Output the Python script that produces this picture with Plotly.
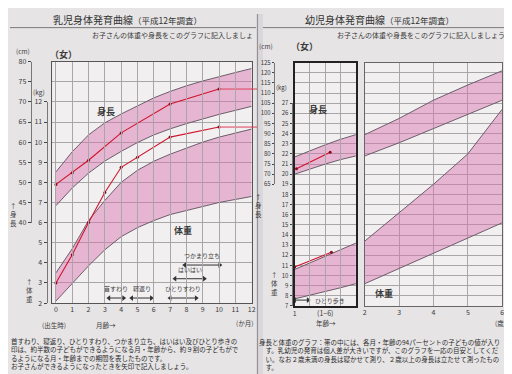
import plotly.graph_objects as go

W, H = 512, 374
def px(x): return x / W
def py(y): return 1 - y / H

# ---------------- data ----------------
# infant chart (0-12 months); length in cm, weight in kg
months = [0, 1, 2, 3, 4, 5, 6, 7, 8, 9, 10, 11, 12]
inf_len_hi = [52.6, 57.6, 61.8, 64.8, 67.0, 68.9, 71.0, 72.6, 74.0, 75.2, 76.3, 77.3, 78.3]
inf_len_lo = [44.2, 48.6, 52.3, 55.3, 57.7, 59.9, 61.8, 63.3, 64.6, 65.8, 66.9, 67.9, 68.9]
inf_wt_hi = [3.5, 4.7, 6.1, 7.1, 8.0, 8.6, 9.05, 9.4, 9.7, 10.0, 10.25, 10.45, 10.65]
inf_wt_lo = [2.1, 3.0, 3.85, 4.65, 5.3, 5.75, 6.1, 6.4, 6.6, 6.8, 7.0, 7.15, 7.3]

child_len_months = [0, 1, 2, 4, 7, 10]
child_len_cm = [49.5, 52.4, 55.5, 62.3, 69.5, 73.2]
child_wt_months = [0, 1, 2, 3, 4, 5, 7, 10]
child_wt_kg = [3.0, 4.4, 6.0, 7.5, 8.75, 9.25, 10.25, 10.75]

inf_ms_names = ["首すわり", "寝返り", "ひとりすわり", "はいはい", "つかまり立ち"]
inf_ms_start = [3.25, 4.65, 7.0, 7.3, 7.9]
inf_ms_end = [4.15, 5.85, 8.6, 9.1, 10.05]

# toddler chart, 1-2 years
tod_age_a = [1.0, 1.25, 1.5, 1.75, 2.0]
tod_len_hi_a = [78.5, 81.6, 84.5, 87.2, 89.5]
tod_len_lo_a = [70.0, 72.6, 75.0, 77.2, 79.0]
tod_wt_hi_a = [10.6, 11.25, 11.9, 12.55, 13.2]
tod_wt_lo_a = [7.7, 8.05, 8.4, 8.8, 9.2]
# toddler chart, 2-6 years
tod_age_b = [2, 3, 4, 5, 6]
tod_len_hi_b = [89.5, 97.5, 106.5, 114.0, 121.0]
tod_len_lo_b = [79.0, 85.5, 92.5, 99.5, 106.5]
tod_wt_hi_b = [13.4, 16.2, 19.0, 22.0, 26.4]
tod_wt_lo_b = [9.2, 10.7, 12.2, 13.7, 15.2]

child2_len_age = [1.03, 1.58]
child2_len_cm = [72.7, 80.8]
child2_wt_age = [1.0, 1.6]
child2_wt_kg = [10.85, 12.3]

tod_ms_names = ["ひとり歩き"]
tod_ms_start = [1.0]
tod_ms_end = [1.22]

left_kg_ticks = list(range(2, 13))
left_cm_ticks = list(range(40, 81, 5))
right_kg_ticks = list(range(7, 28))
right_cm_ticks = list(range(65, 126, 5))

# both charts draw length on the weight scale
def inf_cm(v): return [(c - 10) / 5 for c in v]
def tod_cm(v): return [(c + 30) / 5 for c in v]

# ---------------- style ----------------
FONT = "Noto Sans CJK JP"
PINK = "rgba(214,110,172,0.45)"
EDGE = "#6d5d6b"
RED = "#d0142c"
GRID = "#a9a6a8"
TXT = "#3a3a3a"
PLOTBG = "#f1eff0"

fig = go.Figure()

def band(x, lo, hi, xa, ya):
    fig.add_trace(go.Scatter(x=x, y=lo, mode="lines", line=dict(color=EDGE, width=1),
                             xaxis=xa, yaxis=ya, showlegend=False, hoverinfo="skip"))
    fig.add_trace(go.Scatter(x=x, y=hi, mode="lines", line=dict(color=EDGE, width=1),
                             fill="tonexty", fillcolor=PINK,
                             xaxis=xa, yaxis=ya, showlegend=False, hoverinfo="skip"))

def red(x, y, xa, ya):
    fig.add_trace(go.Scatter(x=x, y=y, mode="lines+markers",
                             line=dict(color=RED, width=1.1),
                             marker=dict(color="#8a0c1c", size=3),
                             xaxis=xa, yaxis=ya, showlegend=False, hoverinfo="skip"))

# infant chart
band(months, inf_cm(inf_len_lo), inf_cm(inf_len_hi), "x", "y")
band(months, inf_wt_lo, inf_wt_hi, "x", "y")
red(child_len_months, inf_cm(child_len_cm), "x", "y")
red(child_wt_months, child_wt_kg, "x", "y")
# horizontal carry-over lines from the last measurement
for v in [inf_cm(child_len_cm)[-1], child_wt_kg[-1]]:
    fig.add_trace(go.Scatter(x=[child_len_months[-1], 12.5], y=[v, v], mode="lines",
                             line=dict(color="#e0405a", width=1), xaxis="x", yaxis="y",
                             showlegend=False, hoverinfo="skip"))
    fig.add_shape(type="line", xref="paper", yref="y", x0=px(244), x1=px(250), y0=v, y1=v,
                  line=dict(color="#e0405a", width=1))

# toddler charts
band(tod_age_a, tod_cm(tod_len_lo_a), tod_cm(tod_len_hi_a), "x2", "y2")
band(tod_age_a, tod_wt_lo_a, tod_wt_hi_a, "x2", "y2")
band(tod_age_b, tod_cm(tod_len_lo_b), tod_cm(tod_len_hi_b), "x3", "y3")
band(tod_age_b, tod_wt_lo_b, tod_wt_hi_b, "x3", "y3")
red(child2_len_age, tod_cm(child2_len_cm), "x2", "y2")
red(child2_wt_age, child2_wt_kg, "x2", "y2")

# milestone arrows
inf_ms_row = [2.25, 2.25, 2.25, 3.21, 3.89]
annots = []
for name, s, e, r in zip(inf_ms_names, inf_ms_start, inf_ms_end, inf_ms_row):
    fig.add_trace(go.Scatter(x=[s, e], y=[r, r], mode="lines+markers",
                             line=dict(color="#333", width=1),
                             marker=dict(symbol=["triangle-left", "triangle-right"], size=5, color="#333"),
                             xaxis="x", yaxis="y", showlegend=False, hoverinfo="skip"))
    annots.append(dict(x=(s + e) / 2, y=r + 0.45, xref="x", yref="y", text=name, showarrow=False,
                       font=dict(size=6, color=TXT, family=FONT)))
for name, s, e in zip(tod_ms_names, tod_ms_start, tod_ms_end):
    fig.add_trace(go.Scatter(x=[s, e], y=[7.58, 7.58], mode="lines+markers",
                             line=dict(color="#333", width=1),
                             marker=dict(symbol=["triangle-left", "triangle-right"], size=5, color="#333"),
                             xaxis="x2", yaxis="y2", showlegend=False, hoverinfo="skip"))
    annots.append(dict(x=e + 0.08, y=7.58, xref="x2", yref="y2", text=name, showarrow=False,
                       xanchor="left", font=dict(size=6, color=TXT, family=FONT)))

# dummy traces for the side scales
for ya in ["y4", "y5"]:
    fig.add_trace(go.Scatter(x=[None], y=[None], xaxis="x", yaxis=ya, showlegend=False))
for ya in ["y6", "y7"]:
    fig.add_trace(go.Scatter(x=[None], y=[None], xaxis="x2", yaxis=ya, showlegend=False))

# ---------------- axes ----------------
tickf = dict(size=7, color=TXT, family=FONT)
grid_axis = dict(showgrid=True, gridcolor=GRID, gridwidth=0.8, zeroline=False,
                 showline=True, mirror=True, ticks="", tickfont=tickf)

L_X0, L_X1, L_Y0, L_Y1 = 43, 244.5, 297, 49
R_Y0, R_Y1 = 300, 50
P2_X0, P2_X1, P3_X0, P3_X1 = 288, 350, 359, 498
kg_px_l = (L_Y0 - L_Y1) / 12.0
kg_px_r = (R_Y0 - R_Y1) / 24.0

fig.update_layout(
    xaxis=dict(domain=[px(L_X0), px(L_X1)], range=[-0.21, 12], tickvals=months, anchor="y",
               linecolor="#555", linewidth=1, **grid_axis),
    yaxis=dict(domain=[py(L_Y0), py(L_Y1)], range=[2, 14], dtick=1, tick0=2, showticklabels=False,
               anchor="x", linecolor="#555", linewidth=1, **grid_axis),
    xaxis2=dict(domain=[px(P2_X0), px(P2_X1)], range=[1, 2], tickvals=tod_age_a,
                ticktext=["1", "", "(1−6)", "", ""], anchor="y2",
                linecolor="#222", linewidth=1.6, **grid_axis),
    yaxis2=dict(domain=[py(R_Y0), py(R_Y1)], range=[7, 31], dtick=1, tick0=7, showticklabels=False,
                anchor="x2", linecolor="#222", linewidth=1.6, **grid_axis),
    xaxis3=dict(domain=[px(P3_X0), px(P3_X1)], range=[2, 6], tickvals=tod_age_b, anchor="y3",
                linecolor="#666", linewidth=1, **grid_axis),
    yaxis3=dict(domain=[py(R_Y0), py(R_Y1)], range=[7, 31], dtick=1, tick0=7, showticklabels=False,
                anchor="x3", linecolor="#666", linewidth=1, **grid_axis),
    yaxis4=dict(domain=[py(L_Y0), py(L_Y0 - 10 * kg_px_l)], range=[2, 12], tickvals=left_kg_ticks,
                anchor="free", position=px(37), side="left", ticks="outside", ticklen=3,
                showline=True, linecolor="#777", showgrid=False, zeroline=False, tickfont=tickf),
    yaxis5=dict(domain=[py(L_Y0 - 4 * kg_px_l), py(L_Y1)], range=[40, 80], tickvals=left_cm_ticks,
                anchor="free", position=px(21), side="left", ticks="outside", ticklen=3,
                showline=True, linecolor="#777", showgrid=False, zeroline=False, tickfont=tickf),
    yaxis6=dict(domain=[py(R_Y0), py(R_Y0 - 20 * kg_px_r)], range=[7, 27], tickvals=right_kg_ticks,
                anchor="free", position=px(285), side="left", ticks="outside", ticklen=2,
                showline=True, linecolor="#777", showgrid=False, zeroline=False,
                tickfont=dict(size=6, color=TXT, family=FONT)),
    yaxis7=dict(domain=[py(R_Y0 - 12 * kg_px_r), py(R_Y1)], range=[65, 125], tickvals=right_cm_ticks,
                anchor="free", position=px(267), side="left", ticks="outside", ticklen=2,
                showline=True, linecolor="#777", showgrid=False, zeroline=False,
                tickfont=dict(size=6, color=TXT, family=FONT)),
)

# ---------------- page text ----------------
def T(x, y, text, size=7, bold=False, xanchor="center", color=TXT, yanchor="middle"):
    if bold:
        text = "<b>" + text + "</b>"
    annots.append(dict(x=px(x), y=py(y), xref="paper", yref="paper", text=text, showarrow=False,
                       xanchor=xanchor, yanchor=yanchor, align="left",
                       font=dict(size=size, color=color, family=FONT)))

T(41, 6, "乳児身体発育曲線", 10, xanchor="left", color="#333")
T(122, 6, "（平成12年調査）", 8.5, xanchor="left", color="#333")
T(296, 6, "幼児身体発育曲線", 10, xanchor="left", color="#333")
T(377, 6, "（平成12年調査）", 8.5, xanchor="left", color="#333")
T(248, 22, "お子さんの体重や身長をこのグラフに記入しましょ", 7, xanchor="right")
T(510, 22, "お子さんの体重や身長をこのグラフに記入しましょう。", 7, xanchor="right")

T(13, 38, "(cm)", 6.5)
T(29, 80, "(kg)", 6.5)
T(54, 42, "（女）", 9, bold=True)
T(259, 33, "(cm)", 6.5)
T(275, 76, "(kg)", 6)
T(298, 33, "（女）", 9, bold=True)

T(97, 100, "身長", 9, bold=True)
T(175, 222, "体重", 9, bold=True)
T(312, 98, "身長", 9, bold=True)
T(378, 287, "体重", 9, bold=True)

T(20, 284, "↑<br>体<br>重", 6.5)
T(4, 206, "↑<br>身<br>長", 6.5)
T(251, 197, "↑<br>身<br>長", 6.5)
T(268, 277, "↑<br>体<br>重", 6.5)

T(30, 320, "(出生時)", 6.5, xanchor="left")
T(85, 320, "月齢→", 6.5, xanchor="left")
T(248, 318, "(か月)", 6.5, xanchor="right")
T(308, 317, "年齢→", 6.5, xanchor="left")
T(504, 317, "(歳)", 6.5, xanchor="right")

left_notes = ["首すわり、寝返り、ひとりすわり、つかまり立ち、はいはい及びひとり歩きの",
              "印は、約半数の子どもができるようになる月・年齢から、約９割の子どもがで",
              "るようになる月・年齢までの期間を表したものです。",
              "お子さんができるようになったときを矢印で記入しましょう。"]
right_notes = ["身長と体重のグラフ：帯の中には、各月・年齢の94パーセントの子どもの値が入り",
               "\u2003す。乳幼児の発育は個人差が大きいですが、このグラフを一応の目安としてくだ",
               "\u2003い。なお２歳未満の身長は寝かせて測り、２歳以上の身長は立たせて測ったもの",
               "\u2003す。"]
T(-1, 349, "<br>".join(left_notes), 6.5, xanchor="left", color="#2a2a2a")
T(250, 350, "<br>".join(right_notes), 6.5, xanchor="left", color="#2a2a2a")

shapes = [
    dict(type="rect", xref="paper", yref="paper", x0=px(L_X0), x1=px(L_X1), y0=py(L_Y0), y1=py(L_Y1),
         fillcolor=PLOTBG, line=dict(width=0), layer="below"),
    dict(type="rect", xref="paper", yref="paper", x0=px(P2_X0), x1=px(P2_X1), y0=py(R_Y0), y1=py(R_Y1),
         fillcolor=PLOTBG, line=dict(width=0), layer="below"),
    dict(type="rect", xref="paper", yref="paper", x0=px(P3_X0), x1=px(P3_X1), y0=py(R_Y0), y1=py(R_Y1),
         fillcolor=PLOTBG, line=dict(width=0), layer="below"),
    dict(type="line", xref="paper", yref="paper", x0=0, x1=px(249), y0=py(14), y1=py(14),
         line=dict(color="#7a787a", width=1)),
    dict(type="line", xref="paper", yref="paper", x0=px(256), x1=1, y0=py(14), y1=py(14),
         line=dict(color="#7a787a", width=1)),
    dict(type="rect", xref="paper", yref="paper", x0=px(249), x1=px(256), y0=0, y1=1,
         fillcolor="#d9d7d9", line=dict(width=0), layer="below"),
    dict(type="line", xref="paper", yref="paper", x0=px(250.5), x1=px(250.5), y0=0, y1=1,
         line=dict(color="#8e8c8e", width=1), layer="below"),
]
for s in shapes:
    fig.add_shape(**s)

fig.update_layout(
    width=W, height=H, autosize=False,
    margin=dict(l=0, r=0, t=0, b=0),
    paper_bgcolor="#e6e4e5", plot_bgcolor="rgba(0,0,0,0)",
    showlegend=False, annotations=annots,
    font=dict(family=FONT, color=TXT),
)

fig.write_html("out.html")
